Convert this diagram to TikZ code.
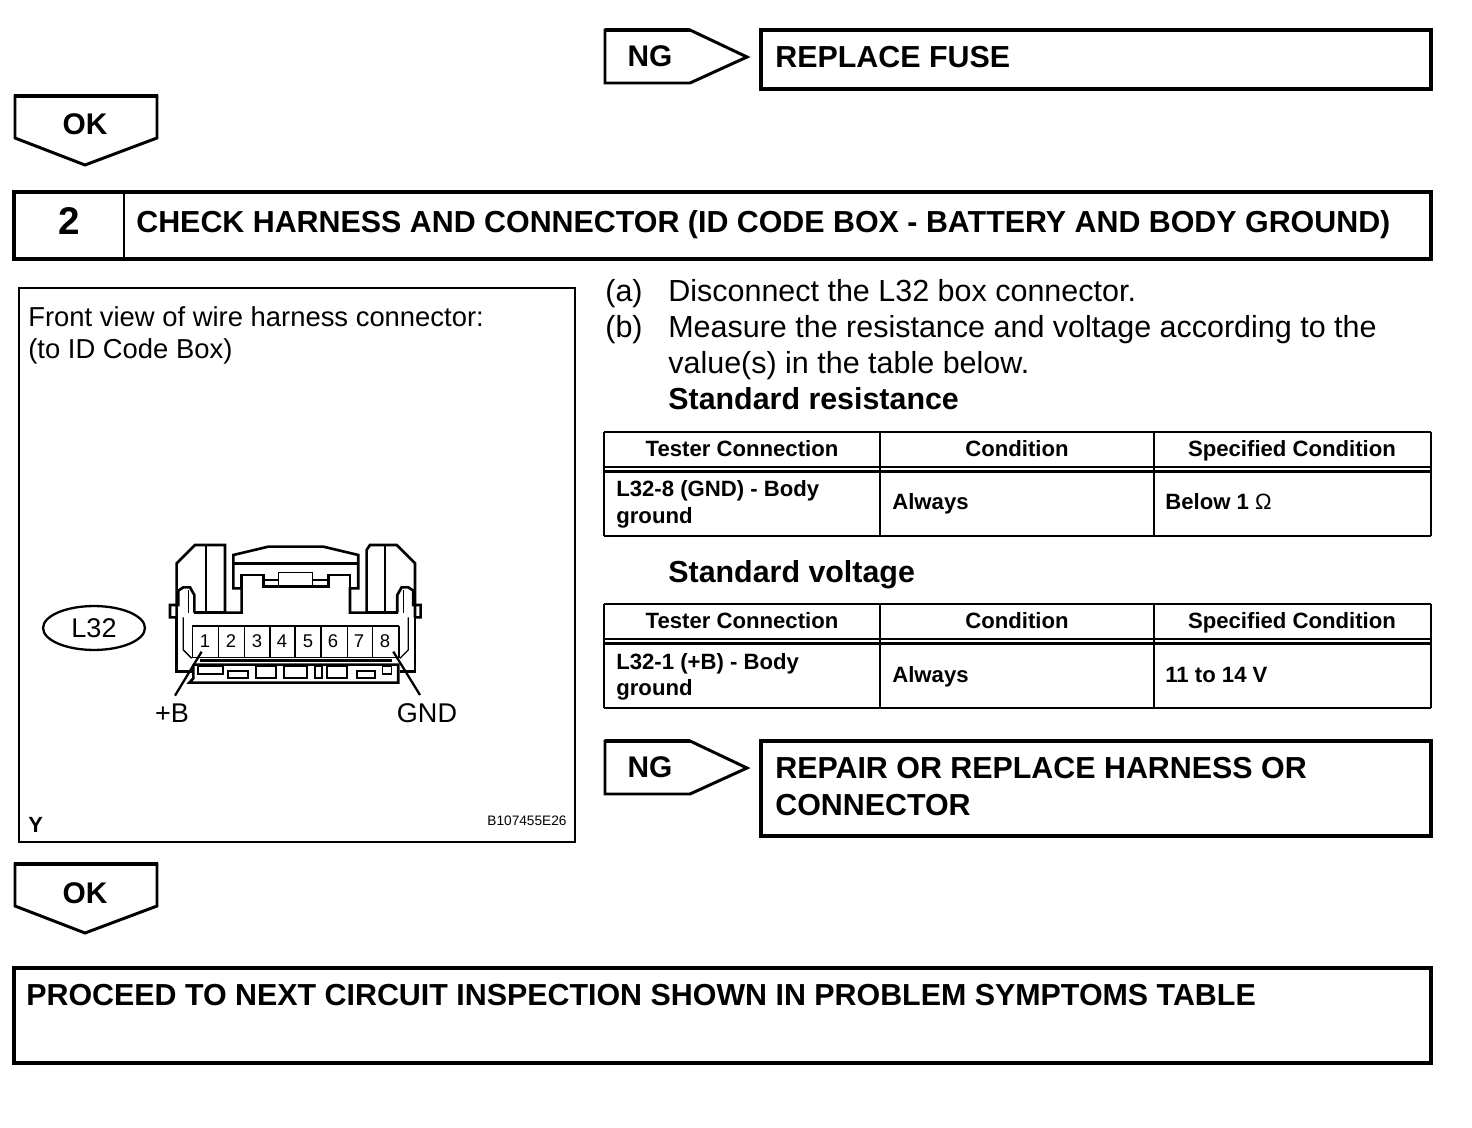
\documentclass[tikz,border=0pt]{standalone}
\usepackage{fontspec}
\setmainfont{Liberation Sans}
\usetikzlibrary{positioning, shapes.geometric}
\tikzset{
	heavyline/.style={line width=2.05pt},
	flagline/.style={line width=1.7pt},
	midline/.style={line width=1.3pt},
	finepart/.style={line width=0.75pt},
	boldpart/.style={line width=1.5pt}
}
\tikzset{
	headtext/.style={anchor=base west, inner sep=0pt, font=\fontsize{17.3}{17.3}\selectfont\bfseries},
	bodytext/.style={anchor=base west, inner sep=0pt, font=\fontsize{17.35}{17.35}\selectfont},
	paneltext/.style={anchor=base west, inner sep=0pt, font=\fontsize{15.6}{15.6}\selectfont},
	celltext/.style={anchor=base west, inner sep=0pt, font=\fontsize{12.6}{12.6}\selectfont\bfseries},
	colhead/.style={anchor=base, inner sep=0pt, font=\fontsize{12.6}{12.6}\selectfont\bfseries},
	flagtext/.style={anchor=base, inner sep=0pt, font=\fontsize{17}{17}\selectfont\bfseries},
	pintext/.style={anchor=base, inner sep=0pt, font=\fontsize{10.5}{10.5}\selectfont},
	wiretext/.style={anchor=base, inner sep=0pt, font=\fontsize{15.4}{15.4}\selectfont}
}
\tikzset{
	okflag/.pic={
			\draw[flagline, miter limit=10]
			(0,0) -- (142,0) -- (142,42) -- (70,69) -- (0,42) -- cycle;
			\draw[heavyline] (-1,0) -- (143,0);
		},
	ngflag/.pic={
			\draw[flagline, miter limit=10]
			(0,0) -- (85,0) -- (142,27) -- (85,53) -- (0,53) -- cycle;
			\draw[heavyline] (0,0) -- (85,0);
		}
}
\tikzset{
	specgrid/.pic={
			\draw[midline] (0,0) -- (827,0);
			\draw[boldpart] (0,35) -- (827,35);
			\draw[midline] (0,39.5) -- (827,39.5);
			\draw[midline] (0,104) -- (827,104);
			\draw[finepart] (0,0) -- (0,104);
			\draw[finepart] (276,0) -- (276,104);
			\draw[finepart] (550,0) -- (550,104);
			\draw[finepart] (827,0) -- (827,104);
		}
}

\begin{document}
\begin{tikzpicture}[x=0.02cm, y=-0.02cm]

			\useasboundingbox (0,0) rectangle (1472,1128);

			\begin{scope}
				\pic at (605,30) {ngflag};
				\node[flagtext] (ngtop) at (650,67) {NG};
				\draw[heavyline] (761,30) rectangle (1431,89);
				\node[headtext] (fuse) at (775,68) {REPLACE FUSE};

				\pic at (15,96) {okflag};
				\node[flagtext] (oktop) at (85,135) {OK};
			\end{scope}

			\begin{scope}
				\draw[heavyline] (14,192) rectangle (1431,259);
				\draw[midline] (124,192) -- (124,259);
				\node[flagtext, font=\fontsize{22}{22}\selectfont\bfseries] (stepno) at (69,235) {2};
				\node[headtext] (steptitle) at (136,233) {CHECK HARNESS AND CONNECTOR (ID CODE BOX - BATTERY AND BODY GROUND)};
			\end{scope}

			\begin{scope}
				\draw[midline] (19,288) rectangle (575,842);
				\node[paneltext] (frontview) at (28,327) {Front view of wire harness connector:};
				\node[paneltext] (toidbox) at (28,359) {(to ID Code Box)};
				\node[draw, midline, ellipse, minimum width=58pt, minimum height=25pt, inner sep=0pt, font=\fontsize{15.4}{15.4}\selectfont] (lbox) at (94,628) {L32};
				\node[anchor=base west, inner sep=0pt, font=\fontsize{12.5}{12.5}\selectfont\bfseries] (yside) at (28,832) {Y};
				\node[anchor=base, inner sep=0pt, font=\fontsize{7.8}{7.8}\selectfont] (partno) at (527,826) {B107455E26};
			\end{scope}

			\begin{scope}[shift={(150,530)}, scale=0.3333]
				\draw[boldpart] (80,262) -- (80,100) -- (135,45) -- (225,45) -- (225,248) -- (275,248) -- (275,175) -- (250,175) -- (250,75) -- (355,50) -- (520,50) -- (625,75) -- (625,175) -- (600,175) -- (600,248) -- (650,248) -- (650,60) -- (660,45) -- (740,45) -- (795,100) -- (795,262);
				\draw[boldpart] (250,100) -- (625,100);
				\draw[boldpart] (275,175) -- (275,135) -- (340,135) -- (340,170) -- (535,170) -- (535,135) -- (600,135) -- (600,175);
				\draw[finepart] (340,150) -- (385,150) (385,170) -- (385,127) -- (487,127) -- (487,170) (487,150) -- (535,150);
				\draw[finepart] (168,45) -- (168,248) (705,45) -- (705,248);
				\draw[boldpart] (133,248) -- (225,248) (650,248) -- (745,248);
				\draw[boldpart] (80,262) -- (60,262) -- (60,225) -- (85,225) -- (85,182) -- (100,172) -- (120,172) -- (133,195) -- (133,248);
				\draw[boldpart] (795,262) -- (812,262) -- (812,225) -- (790,225) -- (790,182) -- (775,172) -- (755,172) -- (742,195) -- (742,248);
				\draw[finepart] (115,180) -- (115,248) (760,180) -- (760,248);
				\draw[boldpart] (80,262) -- (80,425) -- (125,425) (795,262) -- (795,425) -- (750,425);
				\draw[finepart] (100,262) -- (100,360) -- (125,385) (775,262) -- (775,360) -- (750,385);
				\draw[boldpart] (127,288) -- (747,288);
				\draw[finepart] (127,288) -- (127,382) -- (747,382) -- (747,288);
				\draw[finepart] (205,288) -- (205,382);
				\draw[finepart] (283,288) -- (283,382);
				\draw[finepart] (360,288) -- (360,382);
				\draw[finepart] (435,288) -- (435,382);
				\draw[finepart] (513,288) -- (513,382);
				\draw[finepart] (592,288) -- (592,382);
				\draw[finepart] (668,288) -- (668,382);
				\draw[boldpart] (150,392) -- (725,392);
				\draw[boldpart] (130,404) -- (745,404) -- (745,458) -- (118,458) -- (130,445) -- (130,404);
				\draw[midline] (143,408) rectangle (218,432);
				\draw[midline] (235,424) rectangle (295,445);
				\draw[midline] (318,408) rectangle (378,445);
				\draw[midline] (402,408) rectangle (470,445);
				\draw[midline] (495,408) rectangle (515,445);
				\draw[midline] (532,408) rectangle (590,445);
				\draw[midline] (620,424) rectangle (675,445);
				\draw[finepart] (698,408) rectangle (725,432);
				\coordinate (pinA) at (155,365);
				\coordinate (pinH) at (730,365);
				\coordinate (wireA) at (75,497);
				\coordinate (wireH) at (810,495);
			\end{scope}

			\node[pintext] (p1) at (205,648) {1};
			\node[pintext] (p2) at (231,648) {2};
			\node[pintext] (p3) at (257,648) {3};
			\node[pintext] (p4) at (282,648) {4};
			\node[pintext] (p5) at (308,648) {5};
			\node[pintext] (p6) at (333,648) {6};
			\node[pintext] (p7) at (359,648) {7};
			\node[pintext] (p8) at (385,648) {8};

			\draw[midline] (pinA) -- (wireA);
			\draw[midline] (pinH) -- (wireH);
			\node[wiretext] (plusb) at (172,723) {+B};
			\node[wiretext] (gnd) at (427,723) {GND};

			\begin{scope}
				\node[bodytext] (stepa) at (605,302) {(a)};
				\node[bodytext] (stepatext) at (668,302) {Disconnect the L32 box connector.};
				\node[bodytext] (stepb) at (605,338) {(b)};
				\node[bodytext] (stepbtext) at (668,338) {Measure the resistance and voltage according to the};
				\node[bodytext] (stepbmore) at (668,374) {value(s) in the table below.};
				\node[headtext] (stdres) at (668,410) {Standard resistance};
				\node[headtext] (stdvolt) at (668,583) {Standard voltage};
			\end{scope}

			\begin{scope}
				\pic at (604,432) {specgrid};
				\node[colhead] (rescola) at (742,457) {Tester Connection};
				\node[colhead] (rescolb) at (1017,457) {Condition};
				\node[colhead] (rescolc) at (1292,457) {Specified Condition};
				\node[celltext] (resconn) at (616,497) {L32-8 (GND) - Body};
				\node[celltext] (resconnb) at (616,524) {ground};
				\node[celltext] (rescond) at (892,510) {Always};
				\node[celltext] (resspec) at (1165,510) {Below 1 {\mdseries Ω}};

				\pic at (604,604) {specgrid};
				\node[colhead] (volcola) at (742,629) {Tester Connection};
				\node[colhead] (volcolb) at (1017,629) {Condition};
				\node[colhead] (volcolc) at (1292,629) {Specified Condition};
				\node[celltext] (volconn) at (616,669) {L32-1 (+B) - Body};
				\node[celltext] (volconnb) at (616,696) {ground};
				\node[celltext] (volcond) at (892,683) {Always};
				\node[celltext] (volspec) at (1165,683) {11 to 14 V};
			\end{scope}

			\begin{scope}
				\pic at (605,741) {ngflag};
				\node[flagtext] (ngbot) at (650,777) {NG};
				\draw[heavyline] (761,741) rectangle (1431,836);
				\node[headtext] (repair) at (775,778) {REPAIR OR REPLACE HARNESS OR};
				\node[headtext] (repairb) at (775,815) {CONNECTOR};

				\pic at (15,864) {okflag};
				\node[flagtext] (okbot) at (85,903) {OK};
				\draw[heavyline] (14,968) rectangle (1431,1063);
				\node[headtext] (proceed) at (26,1005) {PROCEED TO NEXT CIRCUIT INSPECTION SHOWN IN PROBLEM SYMPTOMS TABLE};
			\end{scope}

		\end{tikzpicture}
\end{document}
